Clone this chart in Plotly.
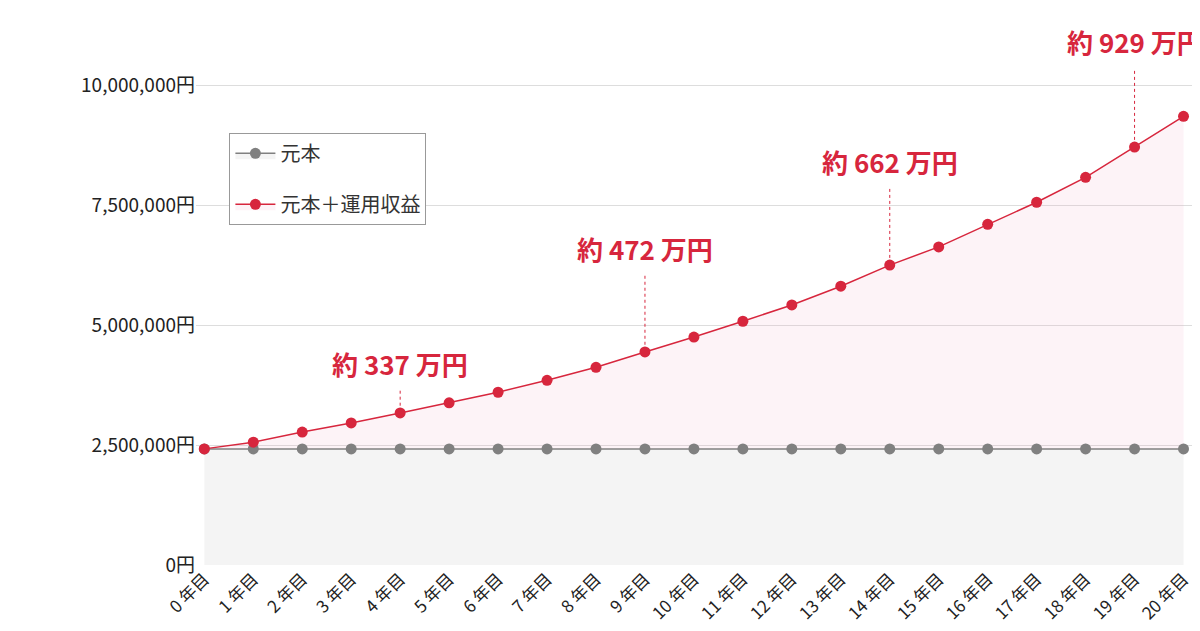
import plotly.graph_objects as go

years = list(range(21))
year_labels = [f"{y} 年目" for y in years]
total = [2.42, 2.56, 2.77, 2.96, 3.17, 3.38, 3.60, 3.85, 4.12, 4.44, 4.75,
         5.08, 5.42, 5.81, 6.25, 6.63, 7.10, 7.56, 8.08, 8.71, 9.35]
total = [v * 1_000_000 for v in total]
principal = [2_420_000] * 21
callout_years = [4, 9, 14, 19]
callout_texts = ["約 337 万円", "約 472 万円", "約 662 万円", "約 929 万円"]
callout_heights = [4_200_000, 6_600_000, 8_400_000, 10_900_000]

RED = "#d7263d"
GRAY = "#808080"
FONT = "Noto Sans CJK JP"

fig = go.Figure()
fig.add_trace(go.Scatter(
    x=years, y=principal, mode="lines+markers", name="元本", legendgroup="b",
    line=dict(color=GRAY, width=1.5), marker=dict(size=11, color=GRAY),
    fill="tozeroy", fillcolor="rgba(200,200,200,0.2)",
))
fig.add_trace(go.Scatter(
    x=years, y=total, mode="lines+markers", name="元本＋運用収益", legendgroup="a",
    line=dict(color=RED, width=1.5), marker=dict(size=11, color=RED),
    fill="tonexty", fillcolor="rgba(240,160,190,0.12)",
))

for yr, txt, h in zip(callout_years, callout_texts, callout_heights):
    fig.add_shape(type="line", x0=yr, x1=yr, y0=total[yr] + 150_000, y1=h - 550_000,
                  line=dict(color=RED, width=1, dash="dot"))
    fig.add_annotation(x=yr, y=h, text="<b>" + txt + "</b>", showarrow=False,
                       font=dict(color=RED, size=26, family=FONT))

fig.update_layout(
    width=1200, height=631,
    margin=dict(l=188, r=0, t=10, b=74, autoexpand=False),
    plot_bgcolor="white", paper_bgcolor="white",
    font=dict(family=FONT, size=17, color="#333"),
    legend=dict(x=0.033, y=0.79, xanchor="left", yanchor="top",
                bordercolor="#999", borderwidth=1, bgcolor="white",
                font=dict(size=20), traceorder="reversed+grouped",
                itemwidth=40, tracegroupgap=22, entrywidth=260),
    showlegend=True,
    xaxis=dict(range=[-0.17, 20.5], tickvals=years, ticktext=year_labels,
               tickangle=-45, showgrid=False, zeroline=False, automargin=False,
               tickfont=dict(size=17, color="#222")),
    yaxis=dict(range=[0, 11_400_000], tickvals=[0, 2_500_000, 5_000_000, 7_500_000, 10_000_000],
               ticktext=["0円", "2,500,000円", "5,000,000円", "7,500,000円", "10,000,000円"],
               showgrid=True, gridcolor="#ddd", zeroline=False, automargin=False,
               tickfont=dict(size=19, color="#222"), ticks=""),
)
fig.write_html("out.html")
